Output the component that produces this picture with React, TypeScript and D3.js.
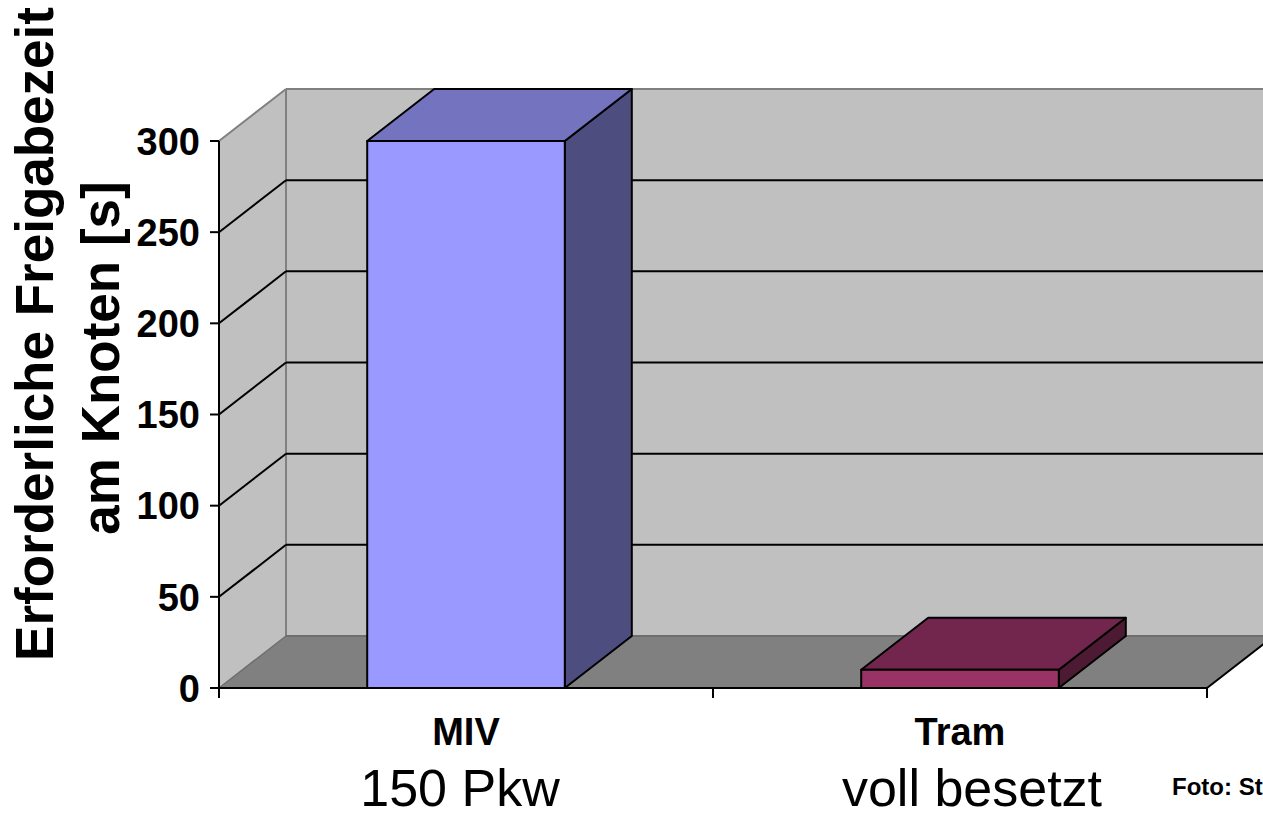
import React from "react";
import * as d3 from "d3";

const categories = ["MIV", "Tram"];
const subLabels = ["150 Pkw", "voll besetzt"];
const values = [300, 10];
const yTicks = [0, 50, 100, 150, 200, 250, 300];
const frontColors = ["#9999FF", "#993366"];
const topColors = ["#7373BF", "#73264D"];
const sideColors = ["#4D4D80", "#4D1A33"];
const titleLines = ["Erforderliche Freigabezeit", "am Knoten [s]"];
const credit = "Foto: St";

const W = 1263;
const H = 818;
const x0 = 219;
const x1 = 1207;
const DX = 67;
const DY = -52;
const FONT = "Arial, 'Liberation Sans', Helvetica, sans-serif";

export default function App() {
  const y = d3.scaleLinear().domain([0, 300]).range([688, 141]);
  const x = d3
    .scaleBand<string>()
    .domain(categories)
    .range([x0, x1])
    .paddingInner(0.6)
    .paddingOuter(0.3);
  const step = x.step();
  const bw = x.bandwidth();
  const yb = y(0);
  const yt = y(300);
  const farRight = x1 + DX + 20;
  const subShift = [-6, 12];

  const poly = (pts: [number, number][]) => {
    const p = d3.path();
    pts.forEach(([a, b], i) => (i === 0 ? p.moveTo(a, b) : p.lineTo(a, b)));
    p.closePath();
    return p.toString();
  };

  return (
    <svg
      width={W}
      height={H}
      style={{ position: "fixed", left: 0, top: 0, background: "#fff" }}
      fontFamily={FONT}
    >
      {/* back wall */}
      <rect x={x0 + DX} y={yt + DY} width={farRight - x0 - DX} height={yb - yt} fill="#C0C0C0" />
      {/* left wall */}
      <path
        d={poly([
          [x0, yt],
          [x0 + DX, yt + DY],
          [x0 + DX, yb + DY],
          [x0, yb],
        ])}
        fill="#C0C0C0"
      />
      {/* floor */}
      <path
        d={poly([
          [x0, yb],
          [x0 + DX, yb + DY],
          [farRight + DX, yb + DY],
          [farRight, yb],
        ])}
        fill="#808080"
      />
      <path
        d={poly([
          [x1, yb],
          [x1 + DX, yb + DY],
          [W + 50, yb + DY],
          [W + 50, yb],
        ])}
        fill="#fff"
      />
      {/* wall edges */}
      <line x1={x0 + DX} y1={yt + DY} x2={farRight} y2={yt + DY} stroke="#808080" strokeWidth={2} />
      <line x1={x0} y1={yt} x2={x0 + DX} y2={yt + DY} stroke="#808080" strokeWidth={2} />
      <line x1={x0 + DX} y1={yt + DY} x2={x0 + DX} y2={yb + DY} stroke="#808080" strokeWidth={2} />
      <line x1={x0 + DX} y1={yb + DY} x2={x1 + DX} y2={yb + DY} stroke="#6E6E6E" strokeWidth={2} />
      <line x1={x0} y1={yb} x2={x0 + DX} y2={yb + DY} stroke="#6E6E6E" strokeWidth={1.5} />
      {/* gridlines */}
      {yTicks
        .filter((t) => t > 0 && t < 300)
        .map((t) => (
          <g key={"g" + t}>
            <line x1={x0} y1={y(t)} x2={x0 + DX} y2={y(t) + DY} stroke="#000" strokeWidth={2} />
            <line x1={x0 + DX} y1={y(t) + DY} x2={farRight} y2={y(t) + DY} stroke="#000" strokeWidth={2} />
          </g>
        ))}
      {/* floor right edge */}
      <line x1={x1} y1={yb} x2={x1 + DX} y2={yb + DY} stroke="#000" strokeWidth={2} />
      {/* bars */}
      {categories.map((c, i) => {
        const bx = x(c)!;
        const top = y(values[i]);
        return (
          <g key={c} stroke="#000" strokeWidth={2} strokeLinejoin="round">
            <path
              d={poly([
                [bx + bw, top],
                [bx + bw + DX, top + DY],
                [bx + bw + DX, yb + DY],
                [bx + bw, yb],
              ])}
              fill={sideColors[i]}
            />
            <path
              d={poly([
                [bx, top],
                [bx + DX, top + DY],
                [bx + bw + DX, top + DY],
                [bx + bw, top],
              ])}
              fill={topColors[i]}
            />
            <rect x={bx} y={top} width={bw} height={yb - top} fill={frontColors[i]} />
          </g>
        );
      })}
      {/* axes */}
      <line x1={x0} y1={yt} x2={x0} y2={yb + 10} stroke="#000" strokeWidth={2} />
      <line x1={x0} y1={yb} x2={x1} y2={yb} stroke="#000" strokeWidth={2} />
      {yTicks.map((t) => (
        <g key={"t" + t}>
          <line x1={x0 - 9} y1={y(t)} x2={x0} y2={y(t)} stroke="#000" strokeWidth={2} />
          <text
            x={x0 - 19}
            y={y(t)}
            dy="0.36em"
            textAnchor="end"
            fontSize={38}
            fontWeight="bold"
          >
            {t}
          </text>
        </g>
      ))}
      {d3.range(categories.length + 1).map((i) => (
        <line
          key={"ct" + i}
          x1={x0 + i * step}
          y1={yb}
          x2={x0 + i * step}
          y2={yb + 10}
          stroke="#000"
          strokeWidth={2}
        />
      ))}
      {categories.map((c, i) => (
        <g key={"l" + c}>
          <text x={x(c)! + bw / 2} y={745} textAnchor="middle" fontSize={38} fontWeight="bold">
            {c}
          </text>
          <text x={x(c)! + bw / 2 + subShift[i]} y={806} textAnchor="middle" fontSize={52}>
            {subLabels[i]}
          </text>
        </g>
      ))}
      {/* y title */}
      <g transform="translate(53,334) rotate(-90)">
        <text x={0} y={0} textAnchor="middle" fontSize={53} fontWeight="bold">
          {titleLines[0]}
        </text>
      </g>
      <g transform="translate(119,358) rotate(-90)">
        <text x={0} y={0} textAnchor="middle" fontSize={53} fontWeight="bold">
          {titleLines[1]}
        </text>
      </g>
      <text x={1172} y={795} fontSize={24} fontWeight="bold">
        {credit}
      </text>
    </svg>
  );
}
